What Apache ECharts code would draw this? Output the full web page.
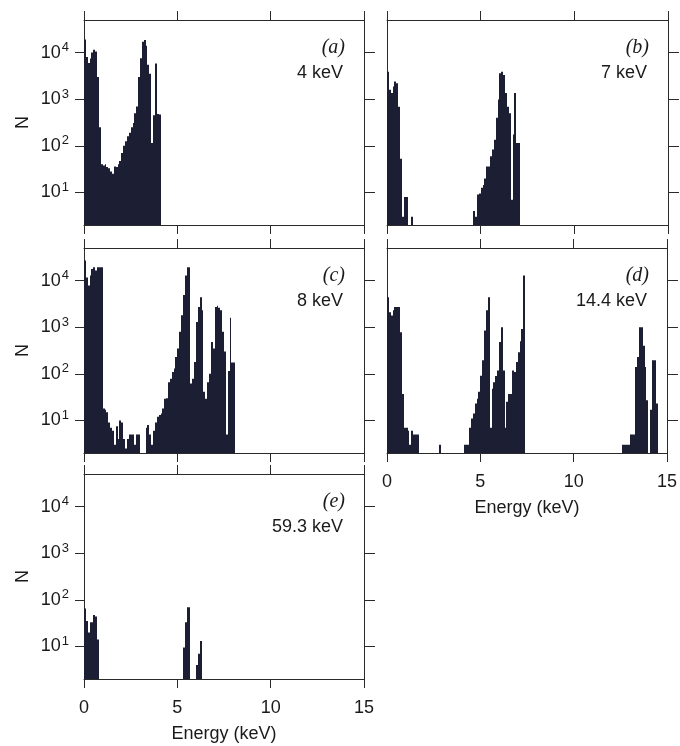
<!DOCTYPE html>
<html>
<head>
<meta charset="utf-8">
<script src="https://cdn.jsdelivr.net/npm/echarts@6/dist/echarts.min.js"></script>
<style>
html,body{margin:0;padding:0;background:#fff;}
#chart{width:680px;height:746px;}
</style>
</head>
<body>
<div id="chart"></div>
<script>
// Energy bins: 0.1 keV wide, first bin starts at 0 keV. Values are counts N.
const binWidth = 0.1;
const xTicks = [0, 5, 10, 15];
const yTickExponents = [1, 2, 3, 4];
const yRange = [2, 50000];

const countsA = [19000, 8000, 6000, 7500, 10000, 11500, 10500, 3000, 250, 40,
  38, 40, 35, 33, 28, 25, 36, 35, 40, 47,
  70, 100, 125, 160, 190, 250, 310, 500, 700, 3000,
  7600, 17000, 18600, 14000, 5500, 3500, 115, 450, 5800, 480,
  470];

const countsB = [3900, 1600, 1350, 1870, 2400, 2200, 690, 53, 3, 8,
  8, 0, 0, 3, 0, 0, 0, 0, 0, 0,
  0, 0, 0, 0, 0, 0, 0, 0, 0, 0,
  0, 0, 0, 0, 0, 0, 0, 0, 0, 0,
  0, 0, 0, 0, 0, 0, 4, 3, 9, 9.5,
  12.6, 14.5, 20, 36, 36, 60, 83, 135, 400, 980,
  3600, 3900, 3300, 1350, 690, 500, 7, 175, 1350, 115,
  115];

const countsC = [27000, 11700, 7800, 12800, 17700, 19300, 16400, 19300, 19300, 19300,
  18, 17, 15, 9, 7, 6, 3, 7.5, 4, 10,
  9, 4, 2.5, 4, 5, 5, 5, 3, 5, 5,
  0, 0, 0, 7, 8, 5, 3, 6, 9, 12,
  13, 14, 18, 29, 30, 66, 78, 110, 130, 230,
  350, 800, 1800, 4900, 12800, 19300, 19300, 62, 78, 180,
  1300, 2700, 4400, 2300, 41, 29, 66, 100, 480, 350,
  2700, 2900, 2600, 2300, 800, 300, 5, 115, 1600, 175,
  175];

const countsD = [4400, 2100, 1780, 2300, 2700, 2700, 2700, 780, 37, 7,
  7, 6, 3, 6, 5, 5, 5, 0, 0, 0,
  0, 0, 0, 0, 0, 0, 0, 0, 3, 0,
  0, 0, 0, 0, 0, 0, 0, 0, 0, 0,
  0, 3, 3, 3, 7, 11, 14, 23, 29, 41,
  91, 195, 850, 2300, 4400, 7, 48, 66, 90, 118,
  480, 1000, 118, 7, 25, 37, 37, 118, 110, 180,
  290, 500, 920, 12800, 0, 0, 0, 0, 0, 0,
  0, 0, 0, 0, 0, 0, 0, 0, 0, 0,
  0, 0, 0, 0, 0, 0, 0, 0, 0, 0,
  0, 0, 0, 0, 0, 0, 0, 0, 0, 0,
  0, 0, 0, 0, 0, 0, 0, 0, 0, 0,
  0, 0, 0, 0, 0, 0, 3, 3, 3, 3,
  5, 5, 5, 140, 230, 1000, 1000, 400, 140, 27,
  0, 17, 195, 195, 23];

const countsE = [65, 35, 20, 33, 33, 47, 44, 14, 0, 0,
  0, 0, 0, 0, 0, 0, 0, 0, 0, 0,
  0, 0, 0, 0, 0, 0, 0, 0, 0, 0,
  0, 0, 0, 0, 0, 0, 0, 0, 0, 0,
  0, 0, 0, 0, 0, 0, 0, 0, 0, 0,
  0, 0, 0, 9.5, 33, 69, 69, 0, 0, 0,
  4, 7, 13];

const panelLetters = ['(a)', '(b)', '(c)', '(d)', '(e)'];
const beamEnergies = ['4 keV', '7 keV', '8 keV', '14.4 keV', '59.3 keV'];
const xAxisName = 'Energy (keV)';
const yAxisName = 'N';

const allCounts = [countsA, countsB, countsC, countsD, countsE];

// layout (pixels)
const layouts = [
  {left: 84, top: 20, width: 280, height: 205, yLabels: true, xLabels: false},
  {left: 387, top: 20, width: 281, height: 205, yLabels: false, xLabels: false},
  {left: 84, top: 248, width: 280, height: 205, yLabels: true, xLabels: false},
  {left: 387, top: 248, width: 281, height: 205, yLabels: false, xLabels: true},
  {left: 84, top: 474, width: 280, height: 205, yLabels: true, xLabels: true}
];

const BAR = '#1c1e33';
const AX = '#2a2a2a';
const TXT = '#1a1a1a';
const SANS = 'Liberation Sans, Arial, sans-serif';
const SERIF = 'Liberation Serif, Times New Roman, serif';

const yMin = Math.log10(yRange[0]);
const yMax = Math.log10(yRange[1]);

const grids = [], xAxes = [], yAxes = [], series = [], titles = [];
const lineStyle = {color: AX, width: 1};

layouts.forEach((L, i) => {
  grids.push({left: L.left, top: L.top, width: L.width, height: L.height, containLabel: false});
  // bottom x
  xAxes.push({
    gridIndex: i, type: 'value', min: xTicks[0], max: xTicks[xTicks.length - 1], interval: 5,
    position: 'bottom',
    axisLine: {show: true, onZero: false, lineStyle},
    axisTick: {show: true, length: 9, inside: false, lineStyle},
    axisLabel: {show: L.xLabels, fontSize: 18, margin: 20, color: TXT, fontFamily: SANS},
    splitLine: {show: false},
    name: L.xLabels ? xAxisName : '',
    nameLocation: 'middle', nameGap: 46,
    nameTextStyle: {fontSize: 18, color: TXT, fontFamily: SANS}
  });
  // top x
  xAxes.push({
    gridIndex: i, type: 'value', min: xTicks[0], max: xTicks[xTicks.length - 1], interval: 5,
    position: 'top',
    axisLine: {show: true, onZero: false, lineStyle},
    axisTick: {show: true, length: 9, inside: false, lineStyle},
    axisLabel: {show: false},
    splitLine: {show: false}
  });
  // left y
  yAxes.push({
    gridIndex: i, type: 'value', min: yMin, max: yMax,
    position: 'left',
    axisLine: {show: true, onZero: false, lineStyle},
    axisTick: {show: L.yLabels, length: 9, inside: false, lineStyle, customValues: yTickExponents},
    axisLabel: {
      show: L.yLabels, customValues: yTickExponents, margin: 15,
      formatter: v => '10{sup|' + Math.round(v) + '}',
      fontSize: 18, color: TXT, fontFamily: SANS,
      rich: {sup: {fontSize: 13, color: TXT, fontFamily: SANS, verticalAlign: 'bottom', padding: [0, 0, 10, 1]}}
    },
    splitLine: {show: false},
    name: L.yLabels ? yAxisName : '',
    nameLocation: 'middle', nameGap: 52,
    nameTextStyle: {fontSize: 18, color: TXT, fontFamily: SANS}
  });
  // right y
  yAxes.push({
    gridIndex: i, type: 'value', min: yMin, max: yMax,
    position: 'right',
    axisLine: {show: true, onZero: false, lineStyle},
    axisTick: {show: true, length: 11, inside: false, lineStyle, customValues: yTickExponents},
    axisLabel: {show: false},
    splitLine: {show: false}
  });

  const counts = allCounts[i];
  const data = [];
  counts.forEach((n, k) => {
    if (n > 0) data.push([Math.round(k * binWidth * 10) / 10, Math.log10(n)]);
  });
  series.push({
    type: 'custom',
    xAxisIndex: 2 * i, yAxisIndex: 2 * i,
    clip: true,
    silent: true,
    encode: {x: 0, y: 1},
    data,
    renderItem: (params, api) => {
      const x0 = api.value(0);
      const ly = api.value(1);
      const p0 = api.coord([x0, ly]);
      const p1 = api.coord([x0 + binWidth, yMin]);
      const xa = Math.round(p0[0]);
      const xb = Math.round(p1[0]);
      return {
        type: 'rect',
        shape: {x: xa, y: p0[1], width: Math.max(1, xb - xa), height: p1[1] - p0[1]},
        style: {fill: BAR}
      };
    }
  });

  const rightEdge = 680 - (L.left + L.width) + 20;
  titles.push({
    text: panelLetters[i], right: rightEdge - 1, top: L.top + 18, padding: 0,
    textStyle: {fontFamily: SERIF, fontStyle: 'italic', fontWeight: 'normal', fontSize: 20, color: TXT}
  });
  titles.push({
    text: beamEnergies[i], right: rightEdge + 1, top: L.top + 44, padding: 0,
    textStyle: {fontFamily: SANS, fontWeight: 'normal', fontSize: 18, color: TXT}
  });
});

const chart = echarts.init(document.getElementById('chart'), null, {renderer: 'canvas', width: 680, height: 746});
chart.setOption({
  animation: false,
  backgroundColor: '#fff',
  title: titles,
  grid: grids,
  xAxis: xAxes,
  yAxis: yAxes,
  series
});
</script>
</body>
</html>
